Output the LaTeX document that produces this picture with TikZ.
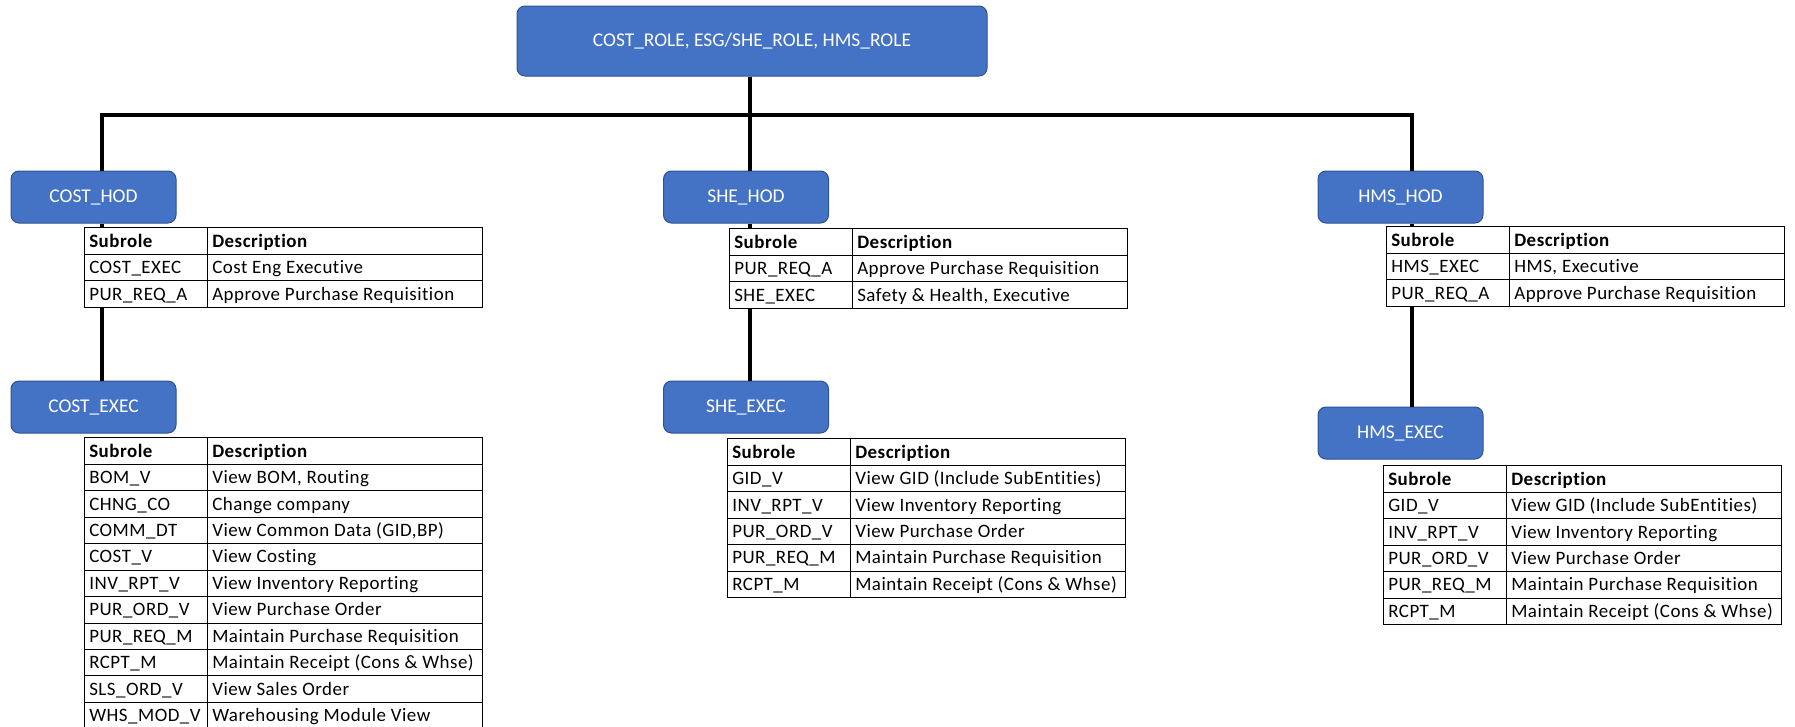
\documentclass[tikz,border=0pt]{standalone}
\usepackage{fontspec}
\setmainfont{Carlito}[Ligatures=NoCommon]
\newfontfamily\tabfont{Carlito}[Ligatures=NoCommon, LetterSpace=2.7]
\usepackage{array}
\usetikzlibrary{positioning}
\definecolor{roleblue}{HTML}{4472C4}
\definecolor{roleedge}{HTML}{2F528F}
\tikzset{
  rolebox/.style={draw=roleedge, fill=roleblue, line width=0.75pt, rounded corners=6pt,
    text=white, font=\fontsize{14.6}{17}\selectfont,
    minimum width=123.75pt, minimum height=39pt, inner sep=0pt},
  subtab/.style={anchor=north west, fill=white, inner sep=0pt,
    font=\tabfont\fontsize{14.2}{16}\selectfont},
  link/.style={line width=3pt},
}
\newcommand{\rowstrut}{\rule[-5pt]{0pt}{19.1pt}}
\newcolumntype{S}{>{\rowstrut}p{85.5pt}}
\newcolumntype{D}{p{199.5pt}}
\setlength{\tabcolsep}{3pt}
\setlength{\arrayrulewidth}{0.75pt}
\begin{document}
\begin{tikzpicture}[x=0.75pt, y=-0.75pt]
                    \useasboundingbox (0,0) rectangle (1795,726);

                    % Drawing top role box
                    \node (top) [rolebox, minimum width=352.5pt, minimum height=52.5pt] at (752,41) {COST\_ROLE, ESG/SHE\_ROLE, HMS\_ROLE};%

                    % Drawing HOD boxes
                    \node (costhod) [rolebox] at (93.5,197) {COST\_HOD};%
                    \node (shehod) [rolebox] at (746,197) {SHE\_HOD};%
                    \node (hmshod) [rolebox] at (1400.5,197) {HMS\_HOD};%

                    % Drawing EXEC boxes
                    \node (costexec) [rolebox] at (93.5,407) {COST\_EXEC};%
                    \node (sheexec) [rolebox] at (746,407) {SHE\_EXEC};%
                    \node (hmsexec) [rolebox] at (1400.5,433) {HMS\_EXEC};%

                    % Marking the branch points
                    \coordinate (bar) at (750,115);%
                    \coordinate (costdrop) at (102,115);%
                    \coordinate (hmsdrop) at (1412,115);%

                    % Drawing the branches
                    \draw [link] (bar |- top.south) -- (bar |- shehod.north);%
                    \draw [link] (costdrop |- costhod.north) -- (costdrop) -- (hmsdrop) -- (hmsdrop |- hmshod.north);%
                    \draw [link] (costdrop |- costhod.south) -- (costdrop |- costexec.north);%
                    \draw [link] (bar |- shehod.south) -- (bar |- sheexec.north);%
                    \draw [link] (hmsdrop |- hmshod.south) -- (hmsdrop |- hmsexec.north);%

                    % Drawing table of COST_HOD
                    \node (costhodtab) [subtab] at (84,227) {\begin{tabular}{|S|D|}\hline
                      \textbf{Subrole} & \textbf{Description}\\\hline
                      COST\_EXEC & Cost Eng Executive\\\hline
                      PUR\_REQ\_A & Approve Purchase Requisition\\\hline
                    \end{tabular}};%

                    % Drawing table of SHE_HOD
                    \node (shehodtab) [subtab] at (729,228) {\begin{tabular}{|S|D|}\hline
                      \textbf{Subrole} & \textbf{Description}\\\hline
                      PUR\_REQ\_A & Approve Purchase Requisition\\\hline
                      SHE\_EXEC & Safety \& Health, Executive\\\hline
                    \end{tabular}};%

                    % Drawing table of HMS_HOD
                    \node (hmshodtab) [subtab] at (1386,226) {\begin{tabular}{|S|D|}\hline
                      \textbf{Subrole} & \textbf{Description}\\\hline
                      HMS\_EXEC & HMS, Executive\\\hline
                      PUR\_REQ\_A & Approve Purchase Requisition\\\hline
                    \end{tabular}};%

                    % Drawing table of COST_EXEC
                    \node (costexectab) [subtab] at (84,437) {\begin{tabular}{|S|D|}\hline
                      \textbf{Subrole} & \textbf{Description}\\\hline
                      BOM\_V & View BOM, Routing\\\hline
                      CHNG\_CO & Change company\\\hline
                      COMM\_DT & View Common Data (GID,BP)\\\hline
                      COST\_V & View Costing\\\hline
                      INV\_RPT\_V & View Inventory Reporting\\\hline
                      PUR\_ORD\_V & View Purchase Order\\\hline
                      PUR\_REQ\_M & Maintain Purchase Requisition\\\hline
                      RCPT\_M & Maintain Receipt (Cons \& Whse)\\\hline
                      SLS\_ORD\_V & View Sales Order\\\hline
                      WHS\_MOD\_V & Warehousing Module View\\\hline
                    \end{tabular}};%

                    % Drawing table of SHE_EXEC
                    \node (sheexectab) [subtab] at (727,438) {\begin{tabular}{|S|D|}\hline
                      \textbf{Subrole} & \textbf{Description}\\\hline
                      GID\_V & View GID (Include SubEntities)\\\hline
                      INV\_RPT\_V & View Inventory Reporting\\\hline
                      PUR\_ORD\_V & View Purchase Order\\\hline
                      PUR\_REQ\_M & Maintain Purchase Requisition\\\hline
                      RCPT\_M & Maintain Receipt (Cons \& Whse)\\\hline
                    \end{tabular}};%

                    % Drawing table of HMS_EXEC
                    \node (hmsexectab) [subtab] at (1383,465) {\begin{tabular}{|S|D|}\hline
                      \textbf{Subrole} & \textbf{Description}\\\hline
                      GID\_V & View GID (Include SubEntities)\\\hline
                      INV\_RPT\_V & View Inventory Reporting\\\hline
                      PUR\_ORD\_V & View Purchase Order\\\hline
                      PUR\_REQ\_M & Maintain Purchase Requisition\\\hline
                      RCPT\_M & Maintain Receipt (Cons \& Whse)\\\hline
                    \end{tabular}};%
\end{tikzpicture}
\end{document}
